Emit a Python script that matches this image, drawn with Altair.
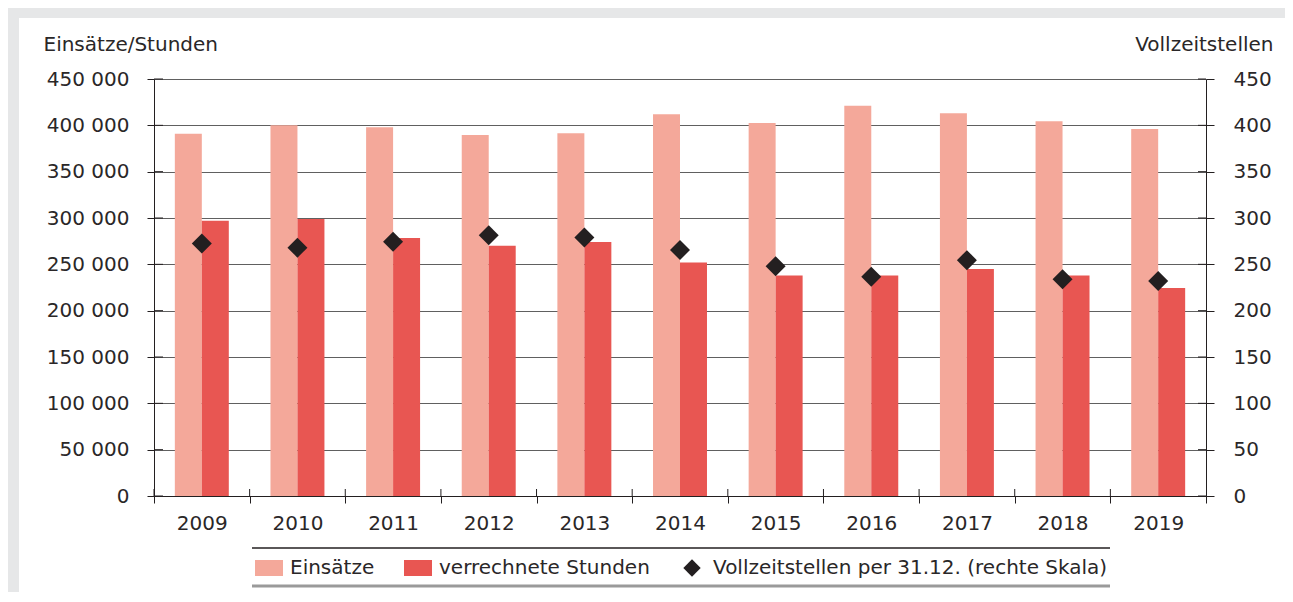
import altair as alt
import pandas as pd

years = ["2009", "2010", "2011", "2012", "2013", "2014", "2015", "2016", "2017", "2018", "2019"]
einsaetze = [391000, 400000, 398000, 389500, 391500, 412000, 402500, 421000, 413000, 404500, 396000]
stunden = [297000, 299000, 278500, 270000, 274000, 252000, 238000, 238000, 245000, 238000, 224500]
vollzeit = [272.5, 268, 274.5, 281.5, 279, 265.5, 248, 236.5, 254.5, 234, 232]

left_ticks = [0, 50000, 100000, 150000, 200000, 250000, 300000, 350000, 400000, 450000]
right_ticks = [0, 50, 100, 150, 200, 250, 300, 350, 400, 450]

S_E = "Einsätze"
S_S = "verrechnete Stunden"
S_V = "Vollzeitstellen per 31.12. (rechte Skala)"
bar_names = [S_E, S_S]
bar_colors = ["#f4a89a", "#e85652"]
dia_color = "#231f20"

FONT = "DejaVu Sans"
TXT = "#231f20"
LBL = "#2a2728"
W, H = 1052, 417
LTITLE = "Einsätze/Stunden"
RTITLE = "Vollzeitstellen"

bars_df = pd.DataFrame(
    [{"year": y, "series": S_E, "value": v} for y, v in zip(years, einsaetze)]
    + [{"year": y, "series": S_S, "value": v} for y, v in zip(years, stunden)]
)
pts_df = pd.DataFrame({"year": years, "series": S_V, "fte": vollzeit})
lt_df = pd.DataFrame({"v": left_ticks})
rt_df = pd.DataFrame({"v": right_ticks})
yr_df = pd.DataFrame({"year": years})
one = pd.DataFrame({"k": [0]})

xscale = alt.Scale(type="band", domain=years, paddingInner=0, paddingOuter=0)
lscale = alt.Scale(domain=[0, 450000], nice=False)
rscale = alt.Scale(domain=[0, 450], nice=False)

diamond_path = "M0,-0.62L0.62,0L0,0.62L-0.62,0Z"
rect_path = "M-1,-0.57H1V0.57H-1Z"

leg_common = dict(
    orient="none", direction="horizontal", title=None,
    symbolSize=784, symbolOpacity=1, symbolStrokeWidth=0,
    labelFont=FONT, labelFontSize=20, labelColor=LBL, labelOffset=7, labelLimit=1000,
    columnPadding=29, padding=0,
)

xaxis = alt.Axis(tickBand="extent", tickSize=7, tickColor=TXT, domainColor=TXT,
                 labelFont=FONT, labelFontSize=20, labelColor=LBL, labelPadding=10,
                 labelAngle=0, grid=False, title=None)
laxis = alt.Axis(values=left_ticks,
                 labelExpr="replace(format(datum.value, ',d'), ',', ' ')",
                 tickSize=7, tickColor=TXT, domainColor=TXT,
                 grid=True, gridColor="#606060", gridWidth=1.2,
                 labelFont=FONT, labelFontSize=20, labelColor=LBL, labelPadding=18,
                 title=LTITLE, titleAngle=0, titleAlign="left",
                 titleBaseline="alphabetic", titleX=-111, titleY=-29,
                 titleFont=FONT, titleFontSize=20, titleFontWeight="normal",
                 titleColor=LBL)
raxis = alt.Axis(orient="right", values=right_ticks, tickSize=8, tickColor=TXT,
                 domainColor=TXT, grid=False,
                 labelFont=FONT, labelFontSize=20, labelColor=LBL, labelPadding=19,
                 title=RTITLE, titleAngle=0, titleAlign="right",
                 titleBaseline="alphabetic", titleX=67, titleY=-29,
                 titleFont=FONT, titleFontSize=20, titleFontWeight="normal",
                 titleColor=LBL)

frame_top = alt.Chart(one).mark_rect(color="#e6e7e8").encode(
    x=alt.value(-146), x2=alt.value(W + 79), y=alt.value(-71), y2=alt.value(-61))
frame_left = alt.Chart(one).mark_rect(color="#e6e7e8").encode(
    x=alt.value(-146), x2=alt.value(-135), y=alt.value(-61), y2=alt.value(H + 96))

bars = alt.Chart(bars_df).mark_bar().encode(
    x=alt.X("year:N", scale=xscale, sort=years, title=None, axis=xaxis),
    xOffset=alt.XOffset("series:N", sort=bar_names,
                        scale=alt.Scale(domain=bar_names, paddingInner=0, paddingOuter=0.772)),
    y=alt.Y("value:Q", scale=lscale, title=LTITLE, axis=laxis),
    color=alt.Color("series:N", scale=alt.Scale(domain=bar_names, range=bar_colors),
                    legend=alt.Legend(legendX=101, legendY=475, symbolType=rect_path, **leg_common)),
)

lticks = alt.Chart(lt_df).mark_rule(color=TXT, strokeWidth=1).encode(
    y=alt.Y("v:Q", scale=lscale, title=LTITLE, axis=laxis), x=alt.value(0), x2=alt.value(9))

xticks = alt.Chart(yr_df).mark_rule(color=TXT, strokeWidth=1).encode(
    x=alt.X("year:N", scale=xscale, sort=years, bandPosition=0, title=None, axis=xaxis),
    y=alt.value(H - 7), y2=alt.value(H))

left = alt.layer(frame_top, frame_left, bars, lticks, xticks)

pts = alt.Chart(pts_df).mark_point(filled=True, size=1040, opacity=1, color=dia_color).encode(
    x=alt.X("year:N", scale=xscale, sort=years, title=None, axis=xaxis),
    y=alt.Y("fte:Q", scale=rscale, title=RTITLE, axis=raxis),
    shape=alt.Shape("series:N", scale=alt.Scale(domain=[S_V], range=[diamond_path]),
                    legend=alt.Legend(legendX=524, legendY=475, symbolFillColor=dia_color,
                                      **leg_common)),
)

rticks = alt.Chart(rt_df).mark_rule(color=TXT, strokeWidth=1).encode(
    y=alt.Y("v:Q", scale=rscale, title=RTITLE, axis=raxis), x=alt.value(W - 8), x2=alt.value(W))

right = alt.layer(pts, rticks)

leg_top = alt.Chart(one).mark_rule(color=TXT, strokeWidth=1.5).encode(
    x=alt.value(98), x2=alt.value(956), y=alt.value(469))
leg_bot = alt.Chart(one).mark_rule(color="#9a9a9a", strokeWidth=3).encode(
    x=alt.value(98), x2=alt.value(956), y=alt.value(507))

chart = alt.layer(left, right, leg_top, leg_bot).resolve_scale(y="independent").properties(
    width=W, height=H,
    autosize=alt.AutoSizeParams(type="none"),
    padding={"left": 146, "top": 71, "right": 79, "bottom": 96},
    background="white",
).configure_view(stroke=None)

chart.save("out.html", embed_options={"renderer": "svg", "actions": False})
